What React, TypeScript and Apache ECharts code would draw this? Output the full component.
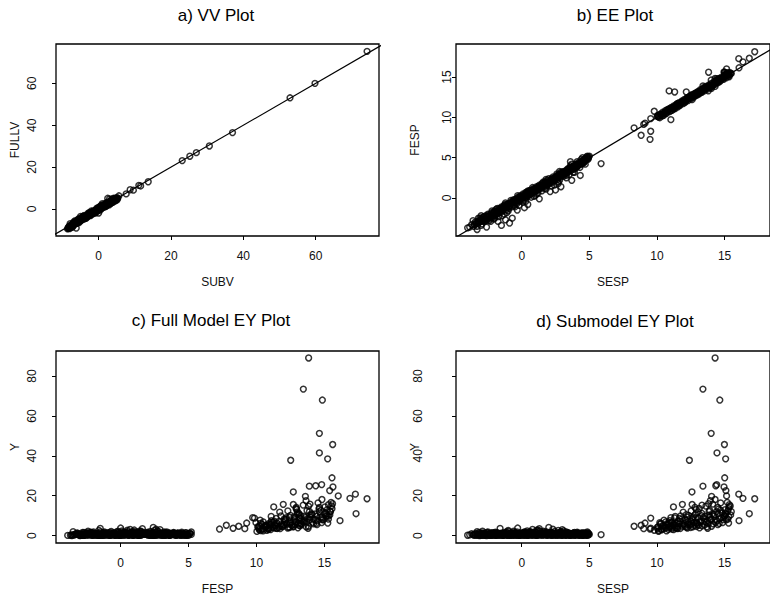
import React, { useEffect, useRef } from "react";
import * as echarts from "echarts";

// ---------- data ----------
// Panel a: SUBV (x) vs FULLV (y)
const vvPoints: [number, number][] = [
  [74.2, 75.3], [59.8, 60.0], [52.9, 53.1], [37.0, 36.5], [30.6, 30.1], [27.0, 26.9],
  [25.2, 25.2], [23.1, 23.1], [13.7, 13.0], [11.6, 11.0], [11.1, 11.3], [9.6, 9.0],
  [8.7, 9.2], [7.6, 7.2], [5.6, 6.3],
  [-8.5, -9.3], [-8.3, -8.6], [-8.0, -9.4], [-7.7, -8.1], [-7.4, -7.9], [-7.1, -7.2],
  [-6.8, -7.6], [-6.5, -6.3], [-6.2, -9.1], [-6.0, -6.6], [-5.8, -5.4], [-5.6, -6.1],
  [-5.3, -4.9], [-5.1, -5.8], [-4.8, -4.5], [-4.6, -5.2], [-4.3, -4.0], [-4.1, -4.8],
  [-3.8, -3.5], [-3.6, -4.3], [-3.3, -3.0], [-3.1, -3.8], [-2.8, -2.4], [-2.6, -3.2],
  [-2.3, -2.1], [-2.1, -2.8], [-1.8, -1.5], [-1.6, -2.3], [-1.3, -1.0], [-1.1, -1.7],
  [-0.8, -0.4], [-0.6, -1.3], [-0.3, 0.1], [-0.1, -0.8], [0.2, 0.6], [0.4, -0.2],
  [0.7, 1.1], [0.9, 0.3], [1.2, 1.6], [1.4, 0.9], [1.7, 2.2], [1.9, 1.3], [2.2, 2.7],
  [2.4, 1.8], [2.7, 3.3], [2.9, 2.3], [3.2, 3.8], [3.4, 2.7], [3.7, 4.3], [3.9, 3.2],
  [4.2, 4.8], [4.4, 3.6], [4.7, 5.2], [4.9, 4.1], [5.1, 5.4], [-7.9, -7.0], [-5.0, -3.6],
  [-2.0, -0.9], [1.0, 2.5], [3.0, 4.8], [2.5, 5.1], [-4.0, -3.1], [0.0, -1.9], [-8.6, -9.5],
  [-7.2, -8.6], [-6.6, -7.0], [-5.4, -6.5], [-4.4, -3.7], [-3.4, -3.9], [-2.4, -1.9],
  [-1.4, -2.0], [-0.5, 0.4], [0.5, 1.3], [1.5, 1.1], [2.0, 2.9], [3.5, 3.3], [4.5, 5.0],
  [-8.4, -8.9], [-8.1, -8.3], [-7.85, -8.5], [-7.55, -7.5], [-7.3, -8.2], [-7.0, -6.8],
  [-6.7, -7.3], [-6.4, -6.0], [-6.1, -6.9], [-5.9, -5.7], [-5.7, -6.4], [-5.45, -5.2],
  [-5.2, -5.5], [-4.95, -4.7], [-4.7, -5.0], [-4.5, -4.2], [-4.2, -4.5], [-3.95, -3.8],
  [-3.7, -4.0], [-3.45, -3.3], [-3.2, -3.5], [-2.95, -2.7], [-2.7, -3.0], [-2.45, -2.3],
  [-2.2, -2.5], [-1.95, -1.8], [-1.7, -2.0], [-1.45, -1.2], [-1.2, -1.5], [-0.95, -0.8],
  [-0.7, -1.0], [-0.45, -0.2], [-0.2, -0.5], [0.05, 0.2], [0.3, 0.0], [0.55, 0.8],
  [0.8, 0.6], [1.05, 1.3], [1.3, 1.1], [1.55, 1.8], [1.8, 1.6], [2.05, 2.3], [2.3, 2.1],
  [2.55, 2.9], [2.8, 2.6], [3.05, 3.4], [3.3, 3.1], [3.55, 3.9], [3.8, 3.6], [4.05, 4.4],
  [4.3, 4.1], [4.55, 4.9], [4.8, 4.6], [5.0, 5.0], [-6.9, -6.2], [-5.5, -4.6], [-3.9, -4.6],
  [-2.5, -1.6], [-0.9, -1.9], [0.6, 1.6], [2.1, 1.4], [3.6, 4.7],
  [-8.2, -9.0], [-7.6, -8.8], [-7.0, -7.9], [-6.3, -6.8], [-5.65, -5.0], [-4.9, -5.4],
  [-4.25, -3.4], [-3.5, -4.5], [-2.9, -2.0], [-2.25, -3.1], [-1.5, -0.9], [-0.85, -1.5],
  [-0.15, 0.6], [0.45, -0.5], [1.1, 1.9], [1.75, 1.0], [2.35, 3.1], [2.95, 2.0],
  [3.6, 3.0], [4.15, 5.2], [4.6, 4.3], [5.2, 4.6], [-6.5, -5.6], [-3.0, -3.3], [0.25, 0.9],
  [-8.3, -9.2], [-7.95, -8.0], [-7.65, -8.4], [-7.35, -7.4], [-7.05, -7.6], [-6.75, -6.6],
  [-6.45, -6.9], [-6.15, -6.1], [-5.85, -6.2], [-5.55, -5.5], [-5.25, -5.8], [-4.9, -4.9],
  [-4.65, -4.6], [-4.35, -4.6], [-4.05, -3.9], [-3.75, -3.8], [-3.5, -3.5], [-3.25, -3.7],
  [-2.9, -2.9], [-2.65, -2.6], [-2.35, -2.7], [-2.05, -2.0], [-1.75, -1.7], [-1.5, -1.8],
  [-1.25, -1.2], [-1.0, -1.3], [-0.75, -0.6], [-0.5, -0.7], [-0.25, -0.1], [0.0, -0.3],
  [0.25, 0.4], [0.5, 0.3], [0.75, 0.9], [1.0, 0.8], [1.25, 1.4], [1.5, 1.4], [1.75, 2.0],
  [2.0, 1.9], [2.25, 2.5], [2.5, 2.4], [2.75, 3.0], [3.0, 2.8], [3.25, 3.6], [3.5, 3.5],
  [3.75, 4.1], [4.0, 3.9], [4.25, 4.6], [4.5, 4.4], [4.75, 5.0], [5.3, 5.2],
];

// Panels b-d: one observation per row [SESP, FESP, Y]
const lowGroup: [number, number, number][] = [
  [-4.0, -3.7, 0.2], [-3.6, -2.8, 0.5], [-3.3, -3.9, 0.1], [-3.3, -3.5, 2.0], [-3.1, -2.5, 1.2],
  [-3.0, -2.9, 0.3], [-2.8, -2.3, 0.8], [-2.6, -3.6, 0.0], [-2.5, -2.0, 1.8], [-2.4, -2.4, 0.4],
  [-2.2, -1.8, 0.2], [-2.1, -2.2, 1.0], [-2.0, -1.6, 0.6], [-1.9, -2.0, 0.1], [-1.8, -1.3, 1.5],
  [-1.75, -2.9, 0.3], [-1.6, -1.5, 3.6], [-1.5, -3.4, 0.5], [-1.5, -1.1, 0.9], [-1.4, -1.6, 0.2],
  [-1.3, -0.9, 1.3], [-1.2, -2.7, 0.7], [-1.1, -1.2, 0.1], [-1.0, -0.7, 2.1], [-0.9, -3.1, 0.4],
  [-0.9, -1.0, 0.8], [-0.8, -0.5, 0.3], [-0.7, -2.5, 1.1], [-0.6, -0.8, 1.6], [-0.5, -0.2, 0.2],
  [-0.4, -0.6, 0.9], [-0.33, -1.5, 0.4], [-0.3, 0.0, 3.8], [-0.2, -0.3, 0.5], [-0.1, 0.3, 1.4],
  [0.0, -0.1, 0.1], [0.1, 0.5, 0.7], [0.2, -1.2, 1.9], [0.2, 0.2, 0.3], [0.3, 0.7, 1.0],
  [0.4, 0.1, 2.4], [0.45, -0.8, 0.6], [0.5, 0.9, 0.2], [0.6, 0.4, 1.2], [0.7, 1.0, 0.5],
  [0.8, 0.7, 3.1], [0.9, 1.2, 0.9], [1.0, 0.8, 1.7], [1.1, 1.4, 0.3], [1.2, 1.0, 2.8],
  [1.3, -0.1, 0.8], [1.3, 1.6, 3.5], [1.4, 1.3, 0.4], [1.5, 1.8, 1.1], [1.6, 1.5, 2.2],
  [1.7, 2.0, 0.6], [1.8, 1.7, 1.4], [1.9, 2.2, 0.2], [2.0, 2.4, 4.1], [2.0, 1.9, 1.2],
  [2.1, 0.8, 0.9], [2.2, 2.3, 1.6], [2.3, 2.1, 0.4], [2.5, 1.0, 0.7], [2.5, 2.4, 1.3],
  [2.6, 2.8, 0.3], [2.7, 2.5, 2.6], [2.8, 3.0, 0.8], [2.9, 1.4, 1.5], [3.0, 3.1, 0.2],
  [3.0, 2.9, 3.0], [3.1, 3.3, 1.0], [3.2, 3.0, 0.5], [3.3, 3.4, 1.8], [3.4, 3.2, 0.3],
  [3.5, 3.7, 0.9], [3.6, 4.5, 0.4], [3.7, 2.2, 0.6], [3.8, 3.9, 1.2], [3.9, 3.6, 0.2],
  [4.0, 4.2, 0.7], [4.1, 3.9, 1.4], [4.2, 4.4, 0.3], [4.33, 2.8, 0.5], [4.4, 4.3, 1.0],
  [4.5, 4.6, 0.2], [4.6, 4.4, 0.8], [4.7, 4.9, 0.4], [4.8, 5.1, 1.2], [4.85, 5.2, 1.8],
  [4.9, 5.0, 0.1], [5.0, 5.2, 0.6], [5.87, 4.27, 0.5], [-2.7, -2.6, 1.1], [-1.2, -0.8, 0.6],
  [0.6, 0.9, 1.8], [1.9, 1.6, 0.9], [3.4, 3.6, 1.1], [4.6, 4.8, 1.5], [-3.5, -3.3, 0.6],
  [-3.85, -3.6, 0.4], [-3.7, -3.3, 1.0], [-3.45, -3.0, 0.2], [-3.2, -3.1, 0.7], [-3.05, -2.7, 0.1],
  [-2.95, -3.2, 1.4], [-2.85, -2.6, 0.3], [-2.75, -2.9, 0.9], [-2.65, -2.2, 0.5], [-2.55, -2.7, 1.6],
  [-2.45, -2.1, 0.2], [-2.35, -2.6, 0.8], [-2.25, -2.0, 1.2], [-2.15, -2.4, 0.3], [-2.05, -1.8, 0.9],
  [-1.95, -2.2, 1.7], [-1.85, -1.6, 0.4], [-1.7, -1.9, 1.0], [-1.65, -1.3, 0.1], [-1.55, -1.8, 0.6],
  [-1.45, -1.2, 1.3], [-1.35, -1.4, 0.2], [-1.25, -1.0, 0.7], [-1.15, -1.5, 1.9], [-1.05, -0.8, 0.3],
  [-0.95, -1.3, 1.0], [-0.85, -0.7, 0.5], [-0.75, -1.1, 1.2], [-0.65, -0.4, 0.1], [-0.55, -0.9, 0.8],
  [-0.45, -0.2, 1.5], [-0.35, -0.7, 0.3], [-0.25, 0.1, 0.9], [-0.15, -0.4, 0.2], [-0.05, 0.2, 1.1],
  [0.05, -0.3, 0.6], [0.15, 0.4, 1.6], [0.25, 0.0, 0.2], [0.35, 0.6, 0.8], [0.45, 0.3, 1.3],
  [0.55, 0.7, 0.4], [0.65, 0.5, 2.0], [0.75, 0.9, 0.1], [0.85, 0.6, 1.1], [0.95, 1.1, 0.5],
  [1.05, 0.9, 1.5], [1.15, 1.3, 0.2], [1.25, 1.1, 0.9], [1.35, 1.4, 2.3], [1.45, 1.2, 0.6],
  [1.55, 1.6, 1.2], [1.65, 1.4, 0.3], [1.75, 1.8, 0.8], [1.85, 1.5, 1.9], [1.95, 2.0, 0.4],
  [2.05, 1.8, 1.0], [2.15, 2.2, 0.2], [2.25, 1.9, 1.4], [2.35, 2.4, 0.7], [2.45, 2.2, 2.1],
  [2.55, 2.6, 0.3], [2.65, 2.3, 1.1], [2.75, 2.8, 0.6], [2.85, 2.6, 1.6], [2.95, 3.0, 0.1],
  [3.05, 2.8, 0.9], [3.15, 3.2, 1.3], [3.25, 3.0, 0.4], [3.35, 3.5, 0.8], [3.45, 3.3, 1.5],
  [3.55, 3.6, 0.2], [3.65, 3.4, 1.0], [3.75, 3.9, 0.5], [3.85, 3.6, 1.3], [3.95, 4.0, 0.3],
  [4.05, 3.8, 0.8], [4.15, 4.2, 1.1], [4.25, 4.1, 0.2], [4.35, 4.4, 0.6], [4.45, 4.2, 1.4],
  [4.55, 4.7, 0.3], [4.65, 4.5, 0.9], [4.75, 4.8, 0.2], [4.95, 5.1, 1.0], [-2.9, -2.4, 2.2],
  [-1.0, -1.6, 2.6], [1.1, 0.5, 2.7], [2.3, 2.6, 3.2], [3.1, 2.7, 2.4], [0.3, 0.1, 1.7],
  [-2.0, -2.5, 1.3], [-0.6, -0.2, 2.2], [1.7, 1.2, 1.8], [2.9, 3.2, 1.9], [4.1, 4.5, 1.7],
  [-3.0, -2.2, 0.6], [-1.9, -1.4, 0.3], [-0.8, -0.3, 1.1], [0.4, 0.8, 0.5], [1.6, 2.0, 0.9],
  [2.6, 3.0, 1.2], [3.6, 4.0, 0.7], [4.4, 4.8, 0.4], [-2.3, -2.9, 0.2], [-0.2, -0.9, 0.6],
  [1.2, 0.6, 0.3], [2.8, 2.2, 0.5], [3.9, 3.2, 0.9], [-1.3, -2.0, 0.4], [0.9, 0.2, 1.4],
  [2.4, 1.6, 0.8], [3.3, 2.5, 0.3], [4.7, 4.2, 1.1],
  [-3.4, -3.1, 0.9], [-3.15, -2.8, 1.6], [-2.8, -2.7, 0.2], [-2.5, -2.3, 0.7], [-2.2, -2.2, 1.5],
  [-1.9, -1.8, 0.5], [-1.6, -1.7, 1.1], [-1.35, -1.1, 0.4], [-1.1, -1.0, 1.4], [-0.85, -0.9, 0.2],
  [-0.6, -0.5, 0.9], [-0.35, -0.3, 1.8], [-0.1, -0.1, 0.4], [0.15, 0.1, 1.2], [0.4, 0.5, 0.3],
  [0.65, 0.8, 1.5], [0.9, 0.9, 0.7], [1.15, 1.0, 2.0], [1.4, 1.5, 0.5], [1.65, 1.7, 1.3],
  [1.9, 1.9, 0.8], [2.15, 2.0, 1.7], [2.4, 2.4, 0.2], [2.65, 2.7, 0.9], [2.9, 2.8, 2.0],
  [3.15, 3.0, 0.6], [3.4, 3.4, 1.3], [3.65, 3.7, 0.4], [3.9, 3.9, 1.6], [4.15, 4.0, 0.5],
  [4.4, 4.5, 1.2], [4.65, 4.7, 0.6], [4.9, 4.8, 1.4], [-2.05, -2.6, 0.5], [0.7, 0.1, 0.8],
  [1.8, 1.1, 0.6], [3.5, 2.9, 0.7], [-1.45, -2.2, 1.0], [0.1, -0.5, 1.3], [2.7, 2.0, 1.0],
  [-3.55, -3.5, 0.3], [-3.38, -3.2, 1.1], [-3.25, -2.9, 0.5], [-3.12, -3.0, 0.0], [-2.98, -2.6, 0.8],
  [-2.88, -2.9, 0.4], [-2.78, -2.4, 1.3], [-2.68, -2.8, 0.1], [-2.58, -2.3, 0.6], [-2.48, -2.5, 1.0],
  [-2.38, -2.2, 0.3], [-2.28, -2.4, 0.9], [-2.18, -1.9, 0.5], [-2.08, -2.1, 1.3], [-1.98, -1.7, 0.2],
  [-1.88, -1.9, 0.7], [-1.78, -1.6, 1.1], [-1.68, -1.6, 0.4], [-1.58, -1.4, 0.8], [-1.48, -1.5, 0.1],
  [-1.38, -1.2, 0.6], [-1.28, -1.3, 1.2], [-1.18, -1.0, 0.4], [-1.08, -1.1, 0.9], [-0.98, -0.8, 0.2],
  [-0.88, -0.9, 0.6], [-0.78, -0.6, 1.3], [-0.68, -0.7, 0.3], [-0.58, -0.4, 0.7], [-0.48, -0.5, 1.1],
  [-0.38, -0.2, 0.4], [-0.28, -0.3, 0.8], [-0.18, 0.0, 0.2], [-0.08, -0.1, 0.6], [0.02, 0.2, 1.0],
  [0.12, 0.1, 0.3], [0.22, 0.4, 0.7], [0.32, 0.3, 1.2], [0.42, 0.6, 0.2], [0.52, 0.5, 0.9],
  [0.62, 0.8, 0.5], [0.72, 0.7, 1.3], [0.82, 1.0, 0.3], [0.92, 0.9, 0.8], [1.02, 1.2, 0.1],
  [1.12, 1.1, 0.6], [1.22, 1.4, 1.0], [1.32, 1.3, 0.4], [1.42, 1.6, 0.8], [1.52, 1.5, 0.2],
  [1.62, 1.8, 0.7], [1.72, 1.7, 1.1], [1.82, 2.0, 0.3], [1.92, 1.9, 0.9], [2.02, 2.1, 0.5],
  [2.12, 2.0, 1.2], [2.22, 2.4, 0.2], [2.32, 2.3, 0.7], [2.42, 2.5, 1.0], [2.52, 2.4, 0.4],
  [2.62, 2.7, 0.9], [2.72, 2.6, 0.2], [2.82, 2.9, 0.6], [2.92, 2.8, 1.2], [3.02, 3.2, 0.4],
  [3.12, 3.1, 0.8], [3.22, 3.3, 0.2], [3.32, 3.2, 0.7], [3.42, 3.5, 1.1], [3.52, 3.4, 0.3],
  [3.62, 3.8, 0.8], [3.72, 3.6, 0.2], [3.82, 3.9, 0.6], [3.92, 3.8, 1.0], [4.02, 4.1, 0.3],
  [4.12, 4.0, 0.7], [4.22, 4.3, 1.2], [4.32, 4.2, 0.4], [4.42, 4.5, 0.8], [4.52, 4.4, 0.2],
  [4.62, 4.6, 0.6], [4.72, 4.7, 1.0], [4.82, 4.9, 0.3], [4.92, 4.9, 0.7], [-3.0, -3.4, 0.4],
  [-2.4, -2.8, 1.0], [-1.7, -2.3, 0.6], [-1.1, -1.8, 0.9], [-0.5, -1.1, 0.5], [0.3, -0.4, 0.9],
  [1.0, 0.3, 0.4], [1.5, 0.9, 1.1], [2.2, 1.5, 0.6], [2.7, 1.8, 0.9], [3.3, 2.8, 0.6],
  [3.8, 3.2, 1.0], [4.3, 3.8, 0.5], [-3.2, -2.5, 0.4], [-2.2, -1.6, 0.6], [-1.2, -0.6, 0.8],
  [-0.3, 0.3, 0.3], [0.8, 1.3, 0.6], [1.8, 2.3, 0.5], [2.8, 3.3, 0.4], [3.7, 4.2, 0.6],
  [4.5, 5.0, 0.9],
];

const highGroup: [number, number, number][] = [
  [14.3, 13.84, 89.1], [13.4, 13.45, 73.5], [14.65, 14.85, 68.0], [14.01, 14.63, 51.3],
  [14.99, 15.61, 45.7], [14.44, 14.63, 41.5], [15.08, 15.24, 38.5], [12.4, 12.52, 37.8],
  [15.01, 15.56, 29.0], [13.4, 13.89, 24.8], [14.35, 14.36, 25.0], [14.42, 14.8, 25.6],
  [14.96, 15.63, 24.4], [15.1, 15.39, 22.6], [12.59, 12.71, 21.9], [16.05, 17.28, 20.8],
  [15.15, 16.02, 19.9], [16.36, 16.88, 18.7], [17.23, 18.14, 18.5], [16.83, 17.33, 11.0],
  [16.07, 16.15, 7.5], [14.04, 13.6, 19.7], [13.95, 13.65, 17.5], [14.3, 14.82, 18.1],
  [15.2, 15.49, 16.7], [15.3, 15.56, 13.5], [15.34, 15.04, 14.4], [14.5, 14.63, 14.1],
  [13.82, 15.6, 16.0], [11.88, 11.97, 15.7], [11.22, 11.27, 14.4], [12.6, 12.71, 15.6],
  [12.9, 12.96, 13.1], [14.99, 15.2, 10.0], [15.0, 15.3, 9.8], [11.03, 9.72, 9.0],
  [8.31, 8.69, 4.7], [8.83, 7.78, 5.2], [9.49, 7.28, 3.3], [9.54, 8.28, 3.7],
  [9.02, 9.14, 3.5], [9.12, 9.28, 6.3], [9.54, 9.85, 8.8], [9.8, 10.76, 2.7],
  [10.9, 13.28, 6.2], [11.31, 13.15, 8.9], [12.17, 13.15, 10.5],
  [10.02, 10.13, 4.1], [10.14, 10.31, 2.5], [10.21, 9.96, 6.5], [10.33, 10.42, 3.2],
  [10.41, 10.63, 5.0], [10.52, 10.27, 7.8], [10.63, 10.84, 3.8], [10.71, 10.49, 2.4],
  [10.84, 11.02, 5.6], [10.93, 10.71, 4.4], [11.06, 11.23, 6.8], [11.12, 10.88, 3.3],
  [11.24, 11.41, 5.2], [11.35, 11.08, 9.6], [11.43, 11.62, 4.0], [11.56, 11.31, 7.2],
  [11.64, 11.83, 5.9], [11.73, 11.52, 3.6], [11.85, 12.04, 8.4], [11.94, 11.71, 11.8],
  [12.03, 12.22, 6.1], [12.12, 11.93, 4.5], [12.24, 12.43, 9.3], [12.31, 12.09, 7.0],
  [12.45, 12.62, 5.3], [12.53, 12.31, 12.4], [12.62, 12.84, 8.0], [12.74, 12.52, 6.4],
  [12.83, 13.01, 10.7], [12.92, 12.73, 4.6], [13.04, 13.22, 8.8], [13.13, 12.91, 13.6],
  [13.21, 13.43, 6.9], [13.32, 13.12, 11.2], [13.43, 13.61, 9.1], [13.54, 13.31, 5.4],
  [13.62, 13.83, 14.8], [13.73, 13.52, 7.7], [13.84, 14.02, 10.3], [13.91, 13.72, 12.6],
  [14.02, 14.21, 8.2], [14.13, 13.94, 15.8], [14.22, 14.43, 9.7], [14.33, 14.12, 6.6],
  [14.41, 14.62, 12.0], [14.52, 14.31, 10.9], [14.63, 14.84, 8.5], [14.71, 14.53, 16.4],
  [14.82, 15.03, 11.4], [14.93, 14.72, 9.2], [15.04, 15.21, 13.0], [15.12, 14.91, 7.9],
  [15.23, 15.42, 12.2], [15.31, 15.12, 9.6], [15.42, 15.53, 14.9], [10.44, 10.21, 4.8],
  [10.73, 10.92, 6.0], [11.01, 10.82, 4.9], [11.52, 11.74, 3.5], [12.04, 11.82, 5.0],
  [12.51, 12.73, 7.3], [13.02, 12.84, 5.6], [13.51, 13.72, 8.4], [14.04, 13.83, 4.7],
  [12.81, 12.93, 14.2], [13.33, 13.44, 15.3], [11.23, 11.04, 3.0], [10.12, 10.03, 2.1],
  [13.15, 13.05, 3.9], [12.2, 12.35, 4.2], [11.65, 11.45, 8.6], [14.6, 14.4, 6.1],
  [10.05, 10.2, 3.4], [10.25, 10.4, 5.8], [10.35, 10.2, 2.9], [10.55, 10.6, 4.6],
  [10.65, 10.5, 6.9], [10.85, 10.9, 3.1], [10.95, 11.1, 7.5], [11.15, 11.2, 4.2],
  [11.25, 11.1, 5.7], [11.45, 11.5, 6.3], [11.55, 11.7, 4.8], [11.75, 11.8, 9.9],
  [11.95, 12.0, 5.5], [12.15, 12.1, 7.6], [12.25, 12.3, 3.8], [12.35, 12.5, 10.1],
  [12.55, 12.5, 6.0], [12.65, 12.7, 4.4], [12.85, 12.8, 8.9], [12.95, 13.1, 6.2],
  [13.05, 13.0, 11.9], [13.25, 13.3, 7.3], [13.35, 13.2, 4.9], [13.55, 13.5, 9.8],
  [13.65, 13.7, 6.8], [13.85, 13.9, 12.1], [13.95, 13.9, 8.0], [14.15, 14.2, 5.9],
  [14.25, 14.1, 10.6], [14.45, 14.5, 7.4], [14.55, 14.6, 13.3], [14.75, 14.8, 9.0],
  [14.85, 14.8, 6.5], [15.05, 15.1, 11.2], [15.25, 15.3, 8.3], [15.35, 15.3, 15.5],
  [15.45, 15.4, 10.4], [11.35, 11.3, 3.9], [12.75, 12.6, 5.1], [13.75, 13.8, 3.7],
  [10.1, 10.1, 4.5], [10.3, 10.3, 6.1], [10.5, 10.5, 3.5], [10.7, 10.7, 5.3],
  [10.9, 10.95, 4.0], [11.1, 11.05, 6.6], [11.3, 11.35, 5.0], [11.5, 11.45, 3.7],
  [11.7, 11.65, 7.1], [11.9, 11.9, 4.7], [12.1, 12.15, 8.2], [12.3, 12.25, 5.7],
  [12.5, 12.45, 4.1], [12.7, 12.75, 9.4], [12.9, 12.85, 6.7], [13.1, 13.15, 5.2],
  [13.3, 13.25, 10.0], [13.5, 13.55, 7.0], [13.7, 13.65, 4.4], [13.9, 13.95, 9.3],
  [14.1, 14.05, 11.0], [14.3, 14.35, 7.8], [14.5, 14.45, 5.5], [14.7, 14.75, 12.8],
  [14.9, 14.85, 8.0], [15.1, 15.15, 10.8], [15.3, 15.25, 6.3], [15.5, 15.45, 12.0],
  [13.8, 13.3, 6.0], [12.6, 12.2, 9.0],
];

// Axis windows and tick values
const aRange = { x: [-11.8, 77.5], y: [-12.9, 78.8] };
const aTicks = [0, 20, 40, 60];
const espRange = [-4.86, 18.36];
const espYRange = [-4.71, 19.1];
const espTicks = [0, 5, 10, 15];
const cRange = [-4.76, 19.02];
const yRange = [-3.7, 92.6];
const yTicks = [0, 20, 40, 60, 80];

const titles = ["a) VV Plot", "b) EE Plot", "c) Full Model EY Plot", "d) Submodel EY Plot"];
const xNames = ["SUBV", "SESP", "FESP", "SESP"];
const yNames = ["FULLV", "FESP", "Y", "Y"];

const FONT = "Liberation Sans, Arial, Helvetica, sans-serif";

export default function App() {
  const ref = useRef<HTMLDivElement>(null);
  useEffect(() => {
    if (!ref.current) return;
    const chart = echarts.init(ref.current, undefined, { renderer: "svg" });
    const all = [...lowGroup, ...highGroup];
    const ptsB = all.map((d) => [d[0], d[1]]);
    const ptsC = all.map((d) => [d[1], d[2]]);
    const ptsD = all.map((d) => [d[0], d[2]]);

    const grids = [
      { left: 56, top: 44, width: 323, height: 192 },
      { left: 456, top: 44, width: 327, height: 192 },
      { left: 56, top: 351, width: 323, height: 192 },
      { left: 456, top: 351, width: 327, height: 192 },
    ];
    const xr = [aRange.x, espRange, cRange, espRange];
    const yr = [aRange.y, espYRange, yRange, yRange];
    const xt = [aTicks, espTicks, espTicks, espTicks];
    const yt = [aTicks, espTicks, yTicks, yTicks];
    const yLabelMargin = [18, 3, 18, 32];

    const mkX = (i: number) => ({
      type: "value",
      gridIndex: i,
      min: xr[i][0],
      max: xr[i][1],
      position: "bottom",
      splitLine: { show: false },
      axisLine: { show: false, onZero: false },
      axisTick: { show: true, inside: false, length: 4, customValues: xt[i], lineStyle: { color: "#000", width: 1 } },
      axisLabel: { show: true, customValues: xt[i], margin: 14, color: "#111", fontSize: 12, fontFamily: FONT },
      name: xNames[i],
      nameLocation: "middle",
      nameGap: 40,
      nameMoveOverlap: false,
      nameTextStyle: { color: "#111", fontSize: 12, fontFamily: FONT },
    });
    const mkY = (i: number) => ({
      type: "value",
      gridIndex: i,
      min: yr[i][0],
      max: yr[i][1],
      position: "left",
      splitLine: { show: false },
      axisLine: { show: false, onZero: false },
      axisTick: { show: true, inside: false, length: 4, customValues: yt[i], lineStyle: { color: "#000", width: 1 } },
      axisLabel: { show: true, customValues: yt[i], rotate: 90, margin: yLabelMargin[i], color: "#111", fontSize: 12, fontFamily: FONT },
      name: yNames[i],
      nameLocation: "middle",
      nameGap: 35,
      nameMoveOverlap: false,
      nameTextStyle: { color: "#111", fontSize: 12, fontFamily: FONT },
    });

    const scatter = (i: number, data: number[][]) => ({
      type: "scatter",
      xAxisIndex: i,
      yAxisIndex: i,
      data,
      symbol: "circle",
      symbolSize: 5.8,
      itemStyle: { color: "rgba(0,0,0,0)", borderColor: "#000", borderWidth: 1.5 },
      clip: true,
      silent: true,
    });
    const identity = (i: number, lo: number, hi: number) => ({
      type: "line",
      xAxisIndex: i,
      yAxisIndex: i,
      data: [[lo, lo], [hi, hi]],
      symbol: "none",
      lineStyle: { color: "#000", width: 1.2 },
      clip: true,
      silent: true,
    });

    const titleX = [216, 615, 211, 615];
    const titleY = [15, 15, 320, 321];

    chart.setOption({
      animation: false,
      backgroundColor: "#fff",
      grid: grids.map((g) => ({ ...g, show: true, borderColor: "#000", borderWidth: 1.3, backgroundColor: "transparent" })),
      xAxis: [0, 1, 2, 3].map(mkX),
      yAxis: [0, 1, 2, 3].map(mkY),
      series: [
        identity(0, -20, 90),
        scatter(0, vvPoints),
        identity(1, -10, 25),
        scatter(1, ptsB),
        scatter(2, ptsC),
        scatter(3, ptsD),
      ],
      graphic: titles.map((t, i) => ({
        type: "text",
        x: titleX[i],
        y: titleY[i],
        style: { text: t, font: `17px ${FONT}`, fill: "#000", align: "center", verticalAlign: "middle" },
      })),
    });
    return () => chart.dispose();
  }, []);
  return (
    <div
      ref={ref}
      style={{ position: "fixed", left: 0, top: 0, width: 770, height: 599, background: "#fff" }}
    />
  );
}
